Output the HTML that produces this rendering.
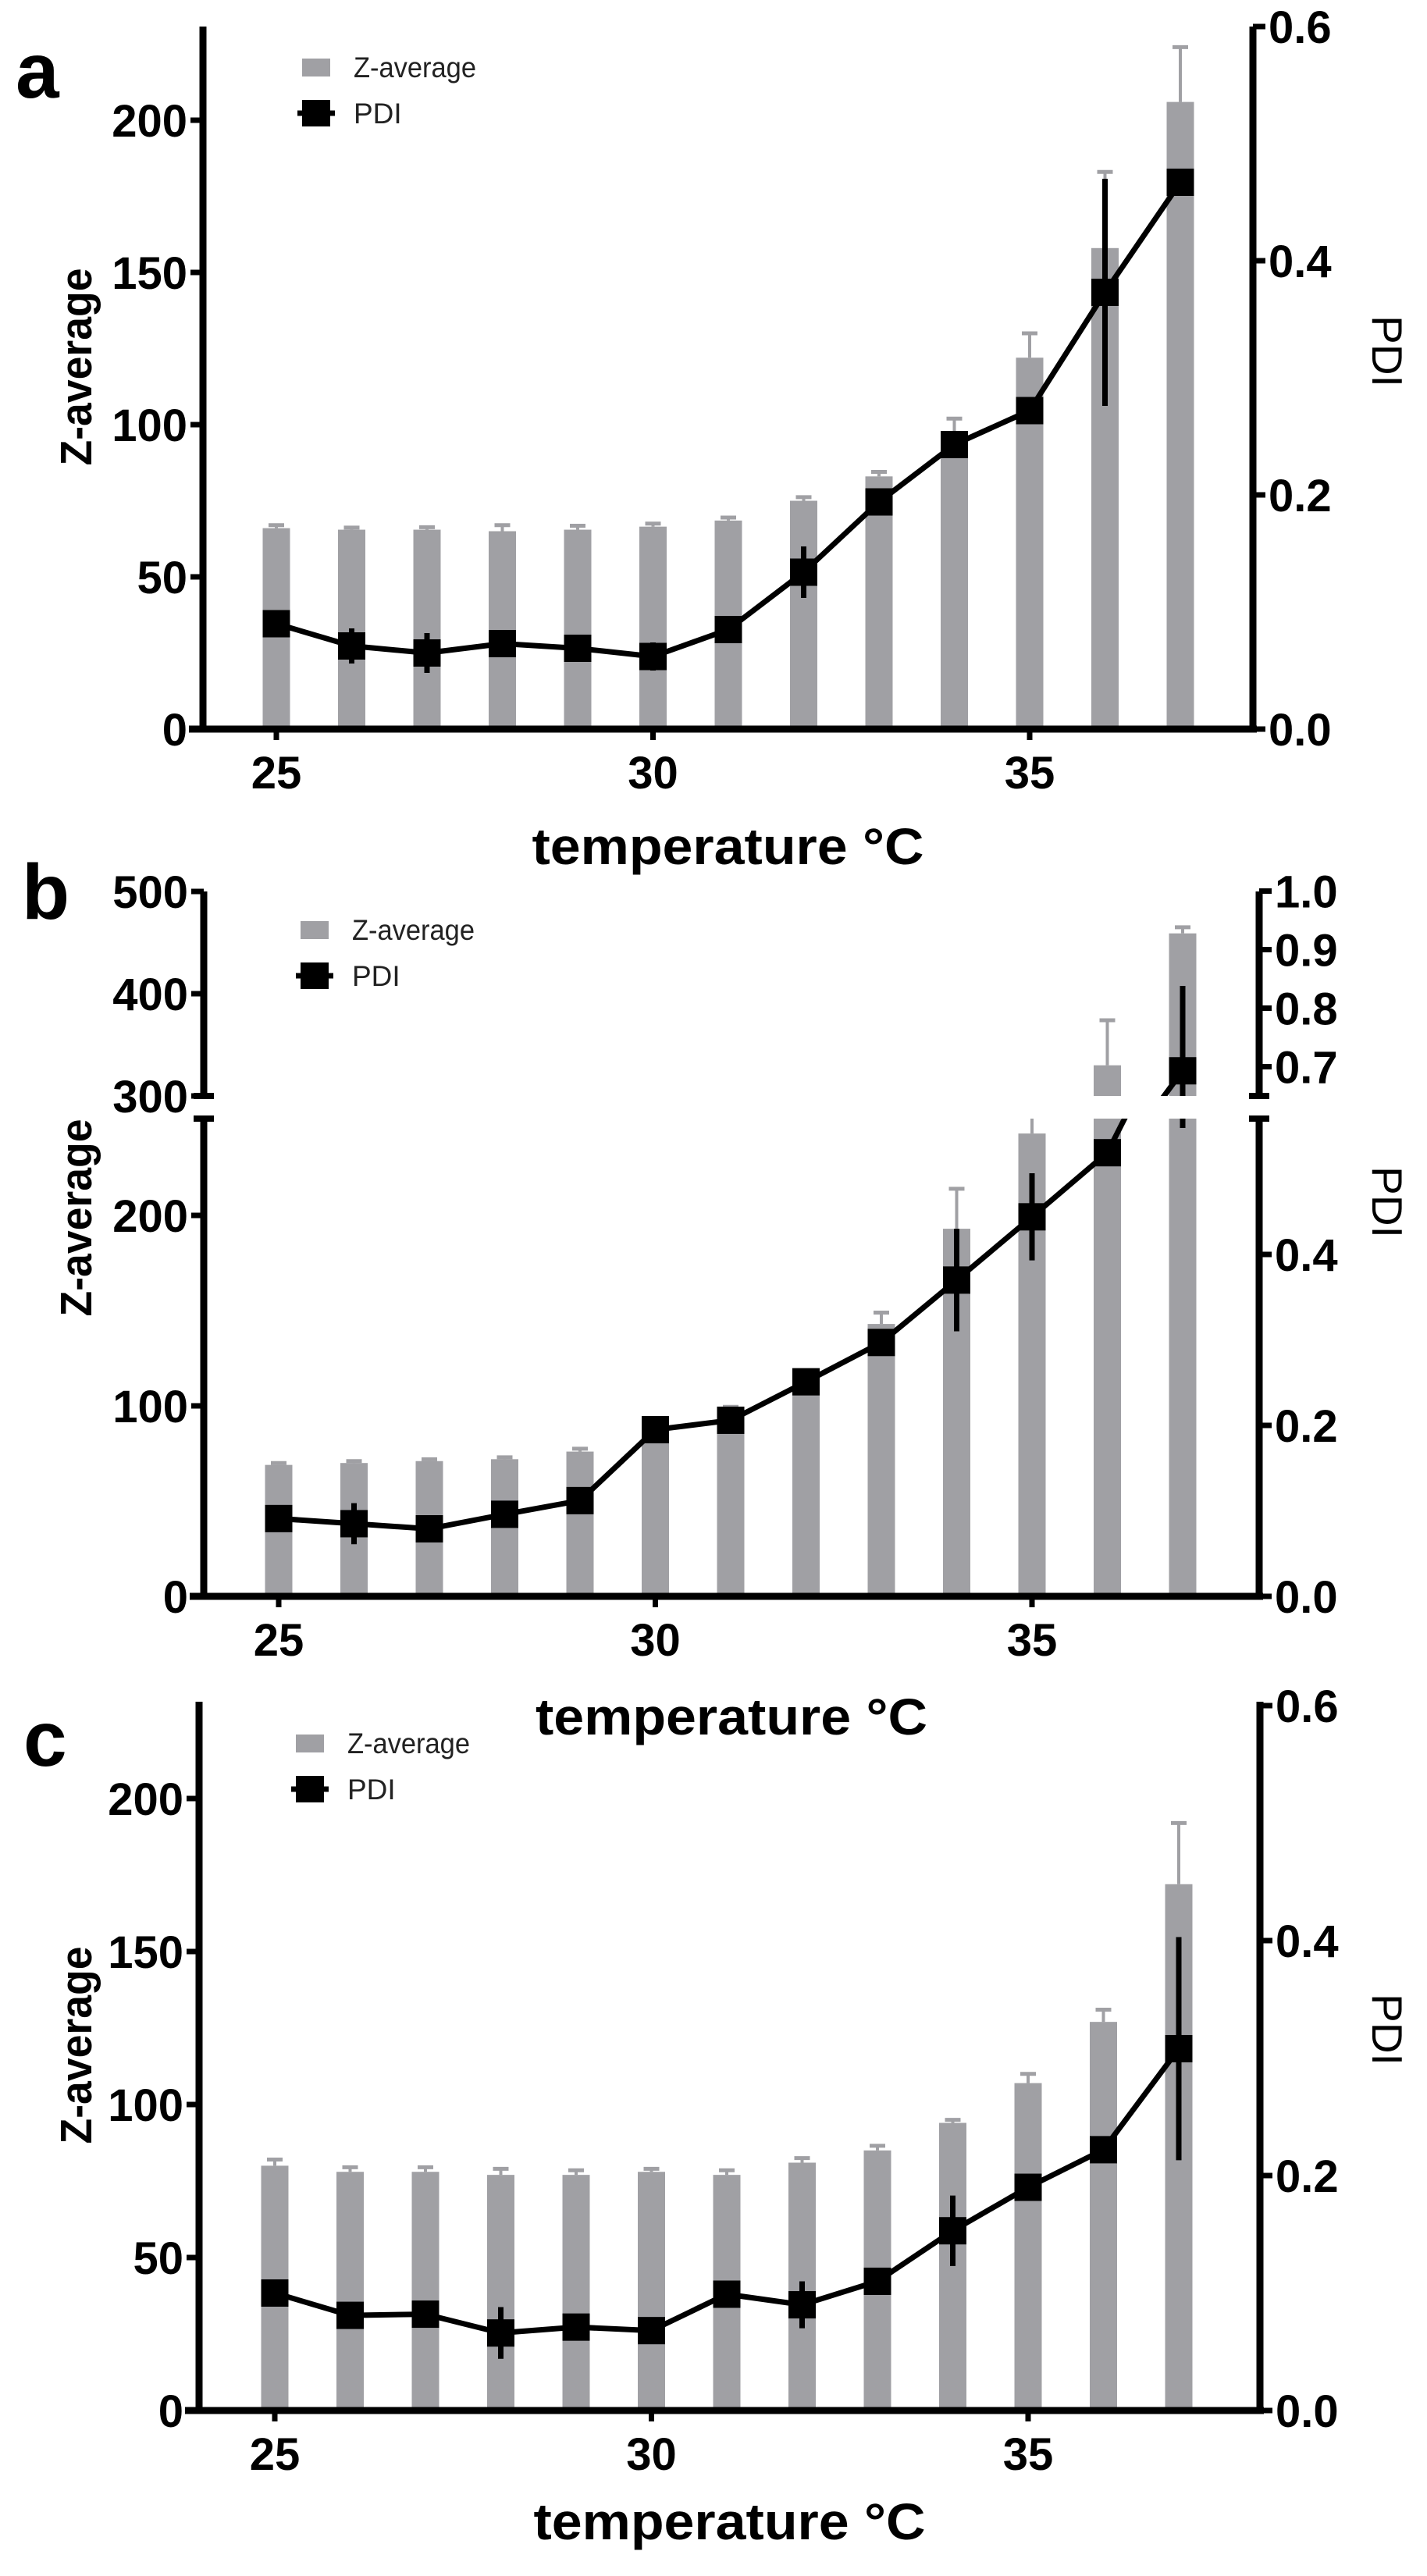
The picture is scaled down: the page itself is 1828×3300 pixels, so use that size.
<!DOCTYPE html>
<html><head><meta charset="utf-8"><style>
html,body{margin:0;padding:0;background:#fff}
svg{display:block}
text{font-family:"Liberation Sans",Arial,sans-serif}
</style></head><body>
<svg id="fig" width="1828" height="3300" viewBox="0 0 1828 3300" xmlns="http://www.w3.org/2000/svg"></svg>
<script>
const temps=[25,26,27,28,29,30,31,32,33,34,35,36,37];
const xTicks=[25,30,35];
// panel a
const aZ=[66,65.5,65.5,65,65.5,66.5,68.5,75,83,93,122,158,206];
const aZerr=[1,0.7,0.8,2,1.3,1,1,1.2,1.5,9,8,25,18];
const aP=[0.090,0.071,0.065,0.073,0.069,0.062,0.085,0.134,0.194,0.243,0.272,0.373,0.467];
const aPerr=[0.008,0.015,0.017,0.010,0.010,0.012,0.005,0.022,0.006,0.010,0.006,0.097,0.006];
const aZTicks=[0,50,100,150,200];
const aPTicks=["0.0","0.2","0.4","0.6"];
// panel b
const bZ=[69,70,71,72,76,87,98,113,143,193,243,330,459];
const bZerr=[1,1,1,1,1.5,1,1.5,2,6,21,12,44,6];
const bP=[0.091,0.085,0.079,0.096,0.112,0.195,0.206,0.251,0.297,0.370,0.444,0.519,0.693];
const bPerr=[0.006,0.024,0.006,0.006,0.006,0.006,0.005,0.006,0.010,0.060,0.051,0.006,0.145];
const bZTicksLow=[0,100,200];
const bZTicksHigh=[300,400,500];
const bPTicksLow=["0.0","0.2","0.4"];
const bPTicksHigh=["0.7","0.8","0.9","1.0"];
// panel c
const cZ=[80,78,78,77,77,78,77,81,85,94,107,127,172];
const cZerr=[2,1.5,1.5,2,1.5,1,1.5,1.5,1.5,1,3,4,20];
const cP=[0.100,0.081,0.082,0.066,0.071,0.068,0.099,0.090,0.110,0.153,0.190,0.222,0.308];
const cPerr=[0.006,0.006,0.008,0.022,0.010,0.006,0.010,0.020,0.006,0.030,0.006,0.006,0.095];
const cZTicks=[0,50,100,150,200];
const cPTicks=["0.0","0.2","0.4","0.6"];

const NS="http://www.w3.org/2000/svg";
const svg=document.getElementById('fig');
function mk(tag,attrs,parent,txt){const e=document.createElementNS(NS,tag);for(const k in attrs)e.setAttribute(k,attrs[k]);if(txt!==undefined)e.textContent=txt;(parent||svg).appendChild(e);return e;}
const GREY="#a0a0a4";
let clipId=0;
function clipRect(x,y,w,h){const id='clip'+(clipId++);const cp=mk('clipPath',{id:id});mk('rect',{x:x,y:y,width:w,height:h},cp);return id;}

// draws bars, error bars, line, markers within one y-segment
function drawSeries(g,X,zY,pY,Z,Ze,P,Pe){
  temps.forEach((t,i)=>{
    const x=X(t);
    const eb=mk('line',{x1:x,x2:x,y1:zY(Z[i]),y2:zY(Z[i]+Ze[i]),stroke:GREY,'stroke-width':4},g);
    
    const ec=mk('line',{x1:x-10,x2:x+10,y1:zY(Z[i]+Ze[i]),y2:zY(Z[i]+Ze[i]),stroke:GREY,'stroke-width':5},g);
    
    const r=mk('rect',{x:x-17.5,y:zY(Z[i]),width:35,height:zY(0)-zY(Z[i]),fill:GREY},g);
    
  });
  let d='';temps.forEach((t,i)=>{d+=(i?'L':'M')+X(t)+' '+pY(P[i]);});
  const ln=mk('path',{d:d,fill:'none',stroke:'#000','stroke-width':7,'stroke-linejoin':'round'},g);
  
  temps.forEach((t,i)=>{
    const x=X(t);
    const pe=mk('line',{x1:x,x2:x,y1:pY(P[i]-Pe[i]),y2:pY(P[i]+Pe[i]),stroke:'#000','stroke-width':7},g);
    
    const m=mk('rect',{x:x-17.5,y:pY(P[i])-17.5,width:35,height:35,fill:'#000'},g);
    
  });
}

function legend(x,y){
  const g=mk('g',{});
  mk('rect',{x:x,y:y-11,width:36,height:23,fill:GREY},g);
  const t1=mk('text',{x:x+66,y:y+13,'font-size':37,fill:'#222',textLength:157,lengthAdjust:'spacingAndGlyphs'},g,'Z-average');
  
  mk('rect',{x:x,y:y+42,width:36,height:34,fill:'#000'},g);
  mk('line',{x1:x-6,x2:x+42,y1:y+59,y2:y+59,stroke:'#000','stroke-width':7},g);
  const t2=mk('text',{x:x+66,y:y+72,'font-size':37,fill:'#222'},g,'PDI');
  
}

function xAxis(L,R,base,X,titleY){
  const g=mk('g',{});
  mk('line',{x1:L-18,x2:R+5,y1:base,y2:base,stroke:'#000','stroke-width':9},g);
  xTicks.forEach(t=>{
    mk('line',{x1:X(t),x2:X(t),y1:base,y2:base+14,stroke:'#000','stroke-width':7},g);
    const tl=mk('text',{x:X(t),y:base+76,'font-size':58,'font-weight':'bold','text-anchor':'middle'},g,t);
    
  });
  const tt=mk('text',{x:(L+R)/2,y:titleY,'font-size':66,'font-weight':'bold','text-anchor':'middle',textLength:502,lengthAdjust:'spacingAndGlyphs'},g,'temperature °C');
  
}
function leftTicks(L,ticks,zY,g){
  ticks.forEach(v=>{
    mk('line',{x1:L-16,x2:L,y1:zY(v),y2:zY(v),stroke:'#000','stroke-width':7},g);
    const t=mk('text',{x:L-20,y:zY(v)+21,'font-size':58,'font-weight':'bold','text-anchor':'end'},g,v);
    
  });
}
function rightTicks(R,ticks,pY,g){
  ticks.forEach(v=>{
    mk('line',{x1:R,x2:R+16,y1:pY(+v),y2:pY(+v),stroke:'#000','stroke-width':7},g);
    const t=mk('text',{x:R+20,y:pY(+v)+21,'font-size':58,'font-weight':'bold'},g,v);
    
  });
}
function titles(yc,letter,ly,lx){
  const z=mk('text',{transform:`translate(117 ${yc}) rotate(-90)`,'font-size':57,'font-weight':'bold','text-anchor':'middle',textLength:253,lengthAdjust:'spacingAndGlyphs'},svg,'Z-average');
  
  const p=mk('text',{transform:`translate(1758 ${yc-20}) rotate(90)`,'font-size':55,'text-anchor':'middle'},svg,'PDI');
  
  const l=mk('text',{x:lx,y:ly,'font-size':100,'font-weight':'bold'},svg,letter);
  
}

// ---------- panel a
(function(){
  const L=260,R=1605,base=934,top=34,x0=354,dx=96.5;
  const X=t=>x0+(t-25)*dx, zY=v=>base-v*3.9, pY=v=>base-v*1500;
  const g=mk('g',{});
  drawSeries(g,X,zY,pY,aZ,aZerr,aP,aPerr);
  mk('line',{x1:L,x2:L,y1:top,y2:base,stroke:'#000','stroke-width':9},g);
  mk('line',{x1:R,x2:R,y1:top,y2:base+4,stroke:'#000','stroke-width':9},g);
  leftTicks(L,aZTicks,zY,g);rightTicks(R,aPTicks,pY,g);
  xAxis(L,R,base,X,1107);
  legend(387,86);
  titles(470,'a',125,20);
})();

// ---------- panel b (broken axis)
(function(){
  const L=261,R=1613,x0=357,dx=96.5;
  const X=t=>x0+(t-25)*dx;
  const baseL=2045,topL=1433,baseH=1404,topH=1142;
  const zL=v=>baseL-v*2.44, pL=v=>baseL-v*1095;
  const zH=v=>baseH-(v-300)*1.31, pH=v=>baseH-(v-0.65)*750;
  const g=mk('g',{});
  const c1=clipRect(L,topL,R-L,baseL-topL+2);
  const gl=mk('g',{'clip-path':`url(#${c1})`},g);
  drawSeries(gl,X,zL,pL,bZ,bZerr,bP,bPerr);
  const c2=clipRect(L,topH-40,R-L,baseH-topH+40);
  const gh=mk('g',{'clip-path':`url(#${c2})`},g);
  drawSeries(gh,X,zH,pH,bZ,bZerr,bP,bPerr);
  // axes
  [[topL,baseL],[topH,baseH]].forEach(s=>{
    mk('line',{x1:L,x2:L,y1:s[0],y2:s[1],stroke:'#000','stroke-width':9},g);
    mk('line',{x1:R,x2:R,y1:s[0],y2:s[1],stroke:'#000','stroke-width':9},g);
  });
  [baseH,topL].forEach(y=>{
    mk('line',{x1:L-13,x2:L+13,y1:y,y2:y,stroke:'#000','stroke-width':8},g);
    mk('line',{x1:R-13,x2:R+13,y1:y,y2:y,stroke:'#000','stroke-width':8},g);
  });
  leftTicks(L,bZTicksLow,zL,g);leftTicks(L,bZTicksHigh,zH,g);
  rightTicks(R,bPTicksLow,pL,g);rightTicks(R,bPTicksHigh,pH,g);
  xAxis(L,R,baseL,X,2222);
  legend(385,1191);
  titles(1560,'b',1177,28);
})();

// ---------- panel c
(function(){
  const L=255,R=1614,base=3088,top=2180,x0=352,dx=96.5;
  const X=t=>x0+(t-25)*dx, zY=v=>base-v*3.92, pY=v=>base-v*1505;
  const g=mk('g',{});
  drawSeries(g,X,zY,pY,cZ,cZerr,cP,cPerr);
  mk('line',{x1:L,x2:L,y1:top,y2:base,stroke:'#000','stroke-width':9},g);
  mk('line',{x1:R,x2:R,y1:top,y2:base+4,stroke:'#000','stroke-width':9},g);
  leftTicks(L,cZTicks,zY,g);rightTicks(R,cPTicks,pY,g);
  xAxis(L,R,base,X,3253);
  legend(379,2233);
  titles(2620,'c',2262,30);
})();
</script>
</body></html>
